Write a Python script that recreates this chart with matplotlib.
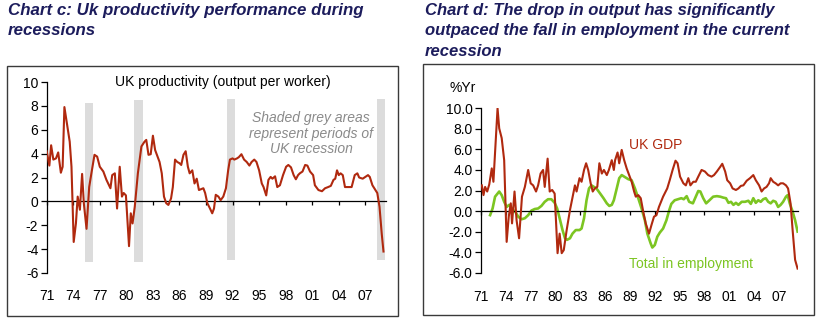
import matplotlib
matplotlib.use("Agg")
import matplotlib.pyplot as plt
from matplotlib.patches import Rectangle

plt.rcParams['font.family'] = ['Liberation Sans', 'DejaVu Sans']

# --- Chart c: UK productivity (output per worker), % y/y ---
prod_years = [1971.0, 1971.3, 1971.5, 1971.75, 1972.05, 1972.3, 1972.6, 1972.8, 1973.0, 1973.25,
              1973.6, 1973.8, 1974.05, 1974.3, 1974.5, 1974.75, 1975.0, 1975.2, 1975.5, 1975.8,
              1976.05, 1976.4, 1976.7, 1977.0, 1977.4, 1977.75, 1978.0, 1978.2, 1978.4, 1978.7,
              1978.95, 1979.25, 1979.5, 1979.7, 1979.95, 1980.3, 1980.5, 1980.7, 1980.95, 1981.3,
              1981.7, 1982.05, 1982.25, 1982.5, 1982.75, 1983.0, 1983.25, 1983.45, 1983.75, 1984.0,
              1984.25, 1984.5, 1984.75, 1985.05, 1985.25, 1985.5, 1985.75, 1986.0, 1986.2, 1986.45,
              1986.7, 1986.95, 1987.15, 1987.45, 1987.7, 1987.95, 1988.2, 1988.7, 1988.9, 1989.15,
              1989.45, 1989.7, 1989.9, 1990.1, 1990.4, 1990.65, 1990.95, 1991.25, 1991.5, 1991.7,
              1992.0, 1992.2, 1992.5, 1992.7, 1993.0, 1993.3, 1993.6, 1993.9, 1994.15, 1994.45,
              1994.7, 1995.0, 1995.3, 1995.5, 1995.8, 1996.05, 1996.3, 1996.5, 1996.8, 1997.05,
              1997.35, 1997.7, 1998.05, 1998.3, 1998.6, 1998.9, 1999.15, 1999.4, 1999.6, 1999.9,
              2000.2, 2000.45, 2000.75, 2001.1, 2001.3, 2001.7, 2002.1, 2002.45, 2002.8, 2003.1,
              2003.4, 2003.6, 2003.8, 2004.0, 2004.2, 2004.45, 2004.7, 2005.1, 2005.45, 2005.8,
              2006.1, 2006.3, 2006.7, 2007.0, 2007.3, 2007.5, 2007.8, 2008.1, 2008.35, 2008.6,
              2008.85, 2009.05]
prod_values = [4.2, 3.0, 4.7, 3.5, 3.6, 4.1, 2.4, 2.9, 7.9, 6.7,
               5.0, 2.9, -3.4, -1.85, 0.4, -0.7, 2.3, -0.2, -2.3, 1.2,
               2.35, 3.9, 3.75, 2.9, 2.5, 1.8, 1.4, 1.1, 2.2, 2.35,
               -0.6, 2.9, 0.4, 0.7, 0.5, -3.75, -1.0, -1.85, -0.45, 2.35,
               4.6, 5.0, 5.15, 3.9, 3.95, 5.5, 4.3, 3.9, 3.3, 2.35,
               0.4, -0.15, -0.3, 0.25, 1.2, 3.5, 3.3, 3.2, 3.05, 3.9,
               4.2, 2.9, 2.35, 2.6, 1.5, 1.9, 0.95, 1.1, 0.7, -0.15,
               -0.6, -1.0, -0.6, 0.55, 0.4, 0.1, 0.4, 1.1, 2.6, 3.5,
               3.6, 3.5, 3.6, 3.7, 3.95, 3.5, 3.3, 3.0, 3.3, 3.5,
               3.3, 2.6, 1.5, 1.2, 0.5, 1.8, 2.05, 1.9, 2.1, 1.2,
               1.35, 2.2, 2.9, 3.05, 2.85, 2.2, 1.85, 2.2, 2.35, 2.5,
               3.05, 3.0, 2.5, 2.2, 1.35, 0.95, 0.85, 1.1, 1.2, 1.3,
               1.8, 1.9, 2.6, 2.2, 2.35, 2.2, 1.2, 1.2, 1.2, 2.2,
               2.35, 2.0, 1.9, 2.05, 2.2, 2.05, 1.35, 1.0, 0.7, -0.45,
               -2.7, -4.2]

# recession shading: start, end, top, bottom
rec_start = [1975.33, 1980.83, 1991.34, 2008.32]
rec_end = [1976.23, 1981.88, 1992.30, 2009.20]
rec_top = [8.2, 8.5, 8.6, 8.6]
rec_bottom = [-5.1, -5.1, -4.9, -4.9]

# --- Chart d: UK GDP and total employment, % y/y ---
gdp_years = [1971.1, 1971.3, 1971.5, 1971.75, 1972.0, 1972.3, 1972.5, 1973.0, 1973.2, 1973.5,
             1973.8, 1974.1, 1974.35, 1974.6, 1974.75, 1975.05, 1975.3, 1975.6, 1975.95, 1976.3,
             1976.7, 1977.0, 1977.3, 1977.65, 1977.9, 1978.2, 1978.5, 1978.7, 1979.05, 1979.3,
             1979.6, 1979.9, 1980.25, 1980.5, 1980.75, 1981.0, 1981.35, 1981.75, 1982.15, 1982.35,
             1982.55, 1982.9, 1983.15, 1983.45, 1983.7, 1983.95, 1984.25, 1984.5, 1984.75, 1985.05,
             1985.3, 1985.6, 1985.85, 1986.2, 1986.45, 1986.8, 1987.05, 1987.2, 1987.5, 1987.7,
             1988.0, 1988.3, 1988.6, 1988.9, 1989.2, 1989.5, 1989.7, 1990.0, 1990.3, 1990.6,
             1990.9, 1991.3, 1991.6, 1991.9, 1992.2, 1992.5, 1993.0, 1993.5, 1993.8, 1994.15,
             1994.5, 1994.75, 1995.05, 1995.45, 1995.75, 1996.05, 1996.3, 1996.65, 1996.95, 1997.25,
             1997.65, 1998.05, 1998.45, 1998.85, 1999.15, 1999.5, 1999.9, 2000.15, 2000.5, 2000.75,
             2001.1, 2001.4, 2001.8, 2002.1, 2002.4, 2002.7, 2003.1, 2003.5, 2003.9, 2004.2,
             2004.6, 2004.9, 2005.2, 2005.5, 2005.8, 2006.0, 2006.3, 2006.6, 2006.9, 2007.2,
             2007.5, 2007.85, 2008.1, 2008.4, 2008.65, 2008.95, 2009.25]
gdp_values = [2.5, 1.55, 2.35, 1.9, 2.6, 4.15, 2.85, 10.0, 8.05, 7.1,
              4.95, -3.0, -0.55, 0.75, -1.2, 1.9, -0.9, -2.65, 1.4, 2.35,
              4.0, 2.7, 2.5, 1.9, 2.5, 3.65, 4.0, 2.35, 5.1, 1.9,
              2.05, 1.7, -4.1, -2.2, -4.1, -3.8, -1.85, 0.1, 1.7, 2.5,
              1.9, 3.2, 2.85, 4.0, 4.65, 4.0, 2.7, 1.9, 2.2, 2.35,
              4.65, 3.65, 4.0, 3.5, 4.0, 4.95, 4.0, 4.95, 5.7, 4.65,
              5.95, 4.95, 4.15, 3.5, 2.85, 1.9, 1.4, 1.55, 1.25, -0.05,
              -1.2, -2.2, -1.35, -0.55, -0.4, 0.4, 1.4, 2.2, 3.0, 4.0,
              4.9, 4.65, 3.35, 2.7, 2.5, 3.2, 2.5, 2.85, 2.85, 3.35,
              4.0, 3.85, 3.5, 3.35, 3.5, 3.85, 4.3, 4.6, 3.85, 3.0,
              2.7, 2.2, 2.05, 2.2, 2.45, 2.5, 2.95, 3.2, 3.5, 3.0,
              2.5, 1.9, 2.2, 2.35, 2.7, 3.2, 2.85, 2.7, 2.5, 2.7,
              2.7, 2.5, 2.2, 0.75, -1.85, -4.75, -5.6]

emp_years = [1972.1, 1972.4, 1972.7, 1973.0, 1973.2, 1973.5, 1973.8, 1974.1, 1974.4, 1974.6,
             1974.9, 1975.2, 1975.5, 1975.9, 1976.3, 1976.7, 1977.1, 1977.5, 1977.9, 1978.3,
             1978.7, 1979.1, 1979.5, 1979.9, 1980.2, 1980.5, 1980.85, 1981.15, 1981.4, 1981.75,
             1982.05, 1982.45, 1982.9, 1983.15, 1983.45, 1983.75, 1984.05, 1984.35, 1984.65, 1984.95,
             1985.4, 1985.8, 1986.2, 1986.5, 1986.8, 1987.05, 1987.4, 1987.7, 1988.0, 1988.4,
             1988.8, 1989.2, 1989.6, 1990.0, 1990.4, 1990.8, 1991.1, 1991.5, 1991.7, 1992.0,
             1992.3, 1992.6, 1993.0, 1993.4, 1993.75, 1994.0, 1994.4, 1994.8, 1995.2, 1995.5,
             1995.85, 1996.15, 1996.6, 1996.95, 1997.25, 1997.5, 1997.85, 1998.2, 1998.6, 1999.05,
             1999.5, 1999.9, 2000.3, 2000.6, 2000.9, 2001.2, 2001.5, 2001.8, 2002.1, 2002.5,
             2002.9, 2003.3, 2003.6, 2003.9, 2004.2, 2004.5, 2004.8, 2005.1, 2005.4, 2005.7,
             2006.0, 2006.3, 2006.6, 2006.9, 2007.2, 2007.5, 2007.85, 2008.05, 2008.3, 2008.65,
             2008.95, 2009.25]
emp_values = [-0.4, 0.25, 1.4, 1.7, 1.9, 1.55, 0.9, 0.4, 0.6, 0.4,
              0.1, -0.15, -0.55, -0.8, -0.7, -0.4, 0.05, 0.2, 0.25, 0.5,
              0.9, 1.15, 1.15, 0.8, 0.25, -0.7, -1.85, -2.65, -2.8, -2.65,
              -2.2, -1.85, -1.85, -1.7, -0.7, 1.05, 2.2, 2.5, 2.35, 2.2,
              1.7, 1.25, 0.75, 0.5, 0.6, 1.05, 2.2, 3.2, 3.5, 3.3,
              3.1, 3.0, 2.2, 1.25, 0.25, -0.9, -2.2, -3.15, -3.55, -3.3,
              -2.5, -2.1, -1.7, -0.9, 0.1, 0.7, 1.05, 1.15, 1.25, 1.15,
              1.45, 0.9, 0.75, 1.4, 1.95, 1.9, 1.25, 0.75, 1.05, 1.4,
              1.45, 1.4, 1.3, 1.25, 0.8, 0.9, 0.6, 0.8, 0.6, 0.9,
              0.9, 1.0, 0.7, 1.25, 0.8, 1.05, 0.9, 1.15, 1.25, 0.9,
              0.75, 1.0, 0.9, 0.4, 0.6, 0.9, 1.4, 1.55, 0.75, -0.05,
              -0.9, -2.0]

tick_years = [1971, 1974, 1977, 1980, 1983, 1986, 1989, 1992, 1995, 1998, 2001, 2004, 2007]
tick_labels = ['71', '74', '77', '80', '83', '86', '89', '92', '95', '98', '01', '04', '07']

RED = '#b0290f'
GREEN = '#7cc522'
NAVY = '#1c1c5c'
W, H = 820, 328


def px_axes(fig, x0, x1, ytop, ybot):
    """axes from pixel box (origin top-left)"""
    return fig.add_axes([x0 / W, 1 - ybot / H, (x1 - x0) / W, (ybot - ytop) / H])


def style_axes(ax, yticks, fmt, pad_x):
    ax.set_xlim(1971, 2009.3)
    ax.set_ylim(-6, 10)
    for s in ['top', 'right']:
        ax.spines[s].set_visible(False)
    ax.spines['bottom'].set_position(('data', 0))
    ax.spines['bottom'].set_linewidth(0.9)
    ax.spines['left'].set_linewidth(0.9)
    ax.set_yticks(yticks)
    ax.set_yticklabels([fmt.format(v) for v in yticks])
    ax.set_xticks(tick_years)
    ax.set_xticklabels(tick_labels)
    ax.tick_params(axis='y', direction='out', length=4, width=0.9, pad=2, labelsize=10)
    ax.tick_params(axis='x', direction='out', length=3, width=0.9, pad=pad_x, labelsize=10)
    ax.patch.set_alpha(0)


fig = plt.figure(figsize=(8.2, 3.28), dpi=100)

# outer boxes
fig.patches.append(Rectangle((7 / W, 1 - 316 / H), 391 / W, 250 / H, transform=fig.transFigure,
                             fill=False, edgecolor='#3a3a3a', linewidth=1.0))
fig.patches.append(Rectangle((423 / W, 1 - 315 / H), 391 / W, 251 / H, transform=fig.transFigure,
                             fill=False, edgecolor='#3a3a3a', linewidth=1.0))

fig.text(8 / W, 1 - 3 / H, "Chart c: Uk productivity performance during\nrecessions",
         ha='left', va='top', fontsize=12.2, fontweight='bold', fontstyle='italic',
         color=NAVY, linespacing=1.45)
fig.text(425 / W, 1 - 3 / H,
         "Chart d: The drop in output has significantly\noutpaced the fall in employment in the current\nrecession",
         ha='left', va='top', fontsize=12, fontweight='bold', fontstyle='italic',
         color=NAVY, linespacing=1.45)

# chart c
ax1 = px_axes(fig, 46.7, 385.7, 82, 273)
for s, e, t, b in zip(rec_start, rec_end, rec_top, rec_bottom):
    ax1.fill_between([s, e], b, t, color='#dcdcdc', linewidth=0, zorder=0)
ax1.plot(prod_years, prod_values, color=RED, linewidth=1.5, zorder=3)
style_axes(ax1, [-6, -4, -2, 0, 2, 4, 6, 8, 10], '{:d}', 60)
ax1.text(0.519, 1.0, "UK productivity (output per worker)", transform=ax1.transAxes,
         ha='center', va='center', fontsize=10)
ax1.text(0.78, 0.73, "Shaded grey areas\nrepresent periods of\nUK recession", transform=ax1.transAxes,
         ha='center', va='center', fontsize=10, fontstyle='italic', color='#8a8a8a', linespacing=1.15)

# chart d
ax2 = px_axes(fig, 481, 798, 108.3, 272.7)
ax2.plot(emp_years, emp_values, color=GREEN, linewidth=1.9, zorder=2)
ax2.plot(gdp_years, gdp_values, color=RED, linewidth=1.5, zorder=3)
style_axes(ax2, [-6, -4, -2, 0, 2, 4, 6, 8, 10], '{:.1f}', 54)
ax2.text(-0.098, 1.123, "%Yr", transform=ax2.transAxes, ha='left', va='center', fontsize=10)
ax2.text(0.551, 0.775, "UK GDP", transform=ax2.transAxes, ha='center', va='center',
         fontsize=10, color=RED)
ax2.text(0.663, 0.05, "Total in employment", transform=ax2.transAxes, ha='center', va='center',
         fontsize=10, color=GREEN)

fig.savefig("out.png", dpi=100)
